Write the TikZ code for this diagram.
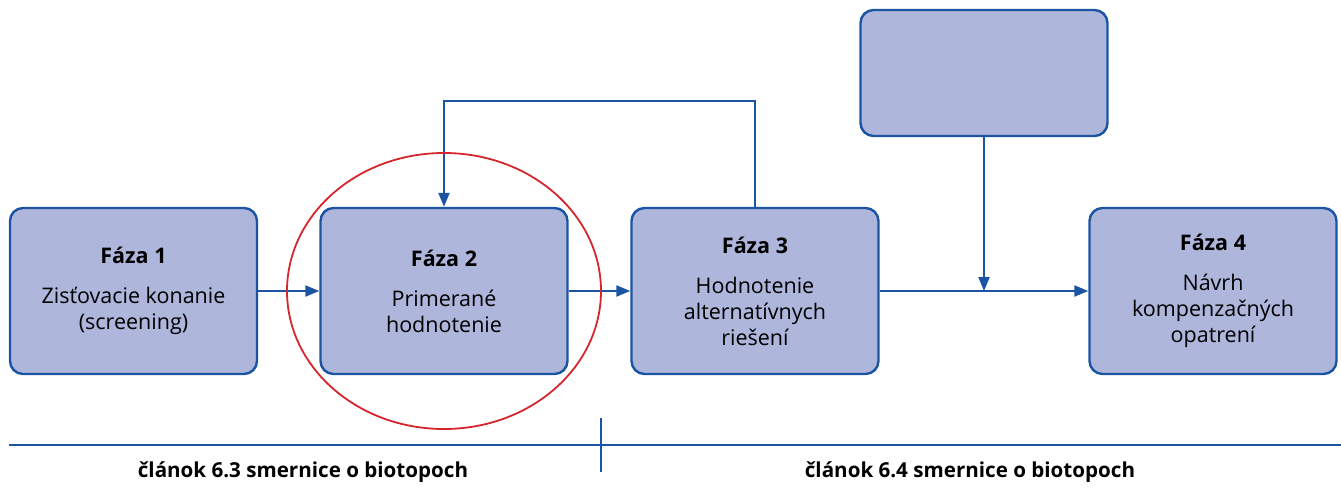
\documentclass[tikz,border=0pt]{standalone}
\usepackage{fontspec}
\setmainfont{Open Sans}
\usetikzlibrary{arrows.meta,positioning}
\definecolor{phasefill}{RGB}{174,182,220}
\definecolor{phaseblue}{RGB}{28,84,164}
\definecolor{markred}{RGB}{214,38,44}

\begin{document}
\begin{tikzpicture}[%
x=1pt, y=-1pt,
phase/.style={draw=phaseblue, fill=phasefill, line width=2.4pt, rounded corners=13pt,
  minimum width=247pt, minimum height=166pt, align=center, inner sep=0pt,
  font=\fontsize{21.5}{26}\selectfont},
flow/.style={draw=phaseblue, line width=2.2pt, -{Triangle[length=14pt,width=11pt]}},
plain/.style={draw=phaseblue, line width=2pt},
article/.style={font=\fontsize{20.6}{24}\selectfont\bfseries},
]
\useasboundingbox (0,0) rectangle (1341,488);
%% phases;
\node[phase] (faza1) at (133.5,291) {\textbf{Fáza 1}\\[14pt]Zisťovacie konanie\\(screening)};
\node[phase] (faza2) at (444,291) {\textbf{Fáza 2}\\[14pt]Primerané\\hodnotenie};
\node[phase] (faza3) at (755,291) {\textbf{Fáza 3}\\[14pt]Hodnotenie\\alternatívnych\\riešení};
\node[phase] (faza4) at (1213,291) {\textbf{Fáza 4}\\[14pt]Návrh\\kompenzačných\\opatrení};
%% empty box;
\node[phase, minimum height=126pt] (input) at (984,73) {};
%% connectors;
\draw[flow] (faza1) -- (faza2);
\draw[flow] (faza2) -- (faza3);
\draw[flow] (faza3) -- (faza4);
\coordinate (join) at (input.south |- faza3.east);
\draw[flow] (input) -- (join);
\coordinate (loop) at (755,101);
\draw[flow] (faza3.north) -- (loop) -| (faza2.north);
%% highlight;
\draw[markred, line width=1.8pt] (faza2.center) ellipse (157pt and 138pt);
%% articles;
\coordinate (axisL) at (9,445);
\coordinate (axisR) at (1341,445);
\draw[plain, line width=2.8pt] (axisL) -- (axisR);
\coordinate (tickT) at (601,418);
\coordinate (tickB) at (601,472);
\draw[plain, line width=1.6pt] (tickT) -- (tickB);
\node[article] (art63) at (303,472) {článok 6.3 smernice o biotopoch};
\node[article] (art64) at (970,472) {článok 6.4 smernice o biotopoch};
\end{tikzpicture}
\end{document}
